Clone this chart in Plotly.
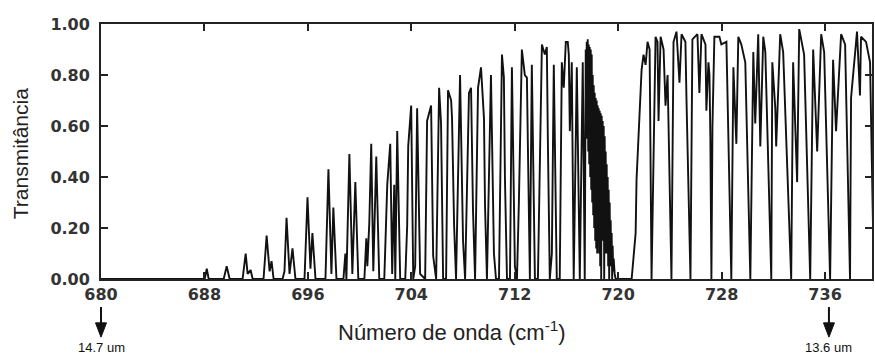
import plotly.graph_objects as go

# Main spectrum (wavenumber in cm^-1, transmittance 0..1)
wavenumber = [
    680.00, 688.02, 688.18, 688.33, 689.49, 689.72, 689.95, 690.95, 691.19, 691.34,
    691.57, 691.73, 692.57, 692.81, 693.04, 693.19, 693.35, 694.04, 694.19, 694.35,
    694.58, 694.81, 695.04, 695.74, 695.97, 696.20, 696.35, 696.59, 697.36, 697.59,
    697.82, 697.97, 698.21, 698.75, 698.90, 698.98, 699.21, 699.44, 699.67, 699.90,
    700.37, 700.52, 700.60, 700.75, 700.90, 701.06, 701.29, 701.52, 701.91, 702.06,
    702.14, 702.37, 702.52, 702.68, 702.76, 702.91, 703.14, 703.53, 703.68, 703.76,
    703.99, 704.15, 704.30, 704.45, 704.68, 705.07, 705.22, 705.53, 705.69, 705.92,
    706.15, 706.30, 706.46, 706.69, 706.84, 707.08, 707.15, 707.31, 707.46, 707.77,
    708.00, 708.16, 708.46, 708.62, 708.77, 708.93, 709.16, 709.39, 709.62, 709.70,
    709.85, 710.16, 710.39, 710.55, 710.78, 711.01, 711.16, 711.24, 711.40, 711.63,
    711.78, 712.01, 712.17, 712.32, 712.55, 712.78, 712.94, 713.02, 713.17, 713.32,
    713.56, 713.79, 713.94, 714.10, 714.33, 714.48, 714.56, 714.71, 714.87, 715.02,
    715.25, 715.48, 715.64, 715.79, 715.95, 716.10, 716.18, 716.26, 716.41, 716.56,
    716.80, 717.03, 717.26,
]
transmittance = [
    0.00, 0.00, 0.04, 0.00, 0.00, 0.05, 0.00, 0.00, 0.10, 0.02,
    0.035, 0.00, 0.00, 0.17, 0.03, 0.07, 0.00, 0.00, 0.03, 0.24,
    0.02, 0.12, 0.00, 0.00, 0.32, 0.04, 0.18, 0.00, 0.00, 0.43,
    0.02, 0.28, 0.00, 0.00, 0.10, 0.00, 0.49, 0.02, 0.38, 0.00,
    0.00, 0.16, 0.05, 0.22, 0.53, 0.03, 0.48, 0.00, 0.00, 0.21,
    0.37, 0.53, 0.02, 0.37, 0.00, 0.58, 0.00, 0.00, 0.21, 0.52,
    0.68, 0.00, 0.05, 0.67, 0.02, 0.00, 0.62, 0.68, 0.09, 0.00,
    0.75, 0.61, 0.00, 0.00, 0.74, 0.70, 0.63, 0.21, 0.00, 0.80,
    0.15, 0.00, 0.73, 0.75, 0.27, 0.00, 0.75, 0.83, 0.63, 0.29,
    0.00, 0.80, 0.10, 0.00, 0.00, 0.88, 0.79, 0.40, 0.00, 0.00,
    0.83, 0.05, 0.00, 0.30, 0.90, 0.80, 0.79, 0.51, 0.00, 0.84,
    0.00, 0.00, 0.50, 0.92, 0.88, 0.91, 0.55, 0.00, 0.10, 0.84,
    0.00, 0.00, 0.85, 0.75, 0.93, 0.93, 0.88, 0.58, 0.85, 0.00,
    0.83, 0.00, 0.85,
]

# Dense line cluster just below 720 cm^-1
dense_wavenumber = [
    717.413, 717.490, 717.529, 717.567, 717.606, 717.645, 717.683, 717.722, 717.760, 717.799,
    717.837, 717.876, 717.915, 717.953, 717.992, 718.030, 718.069, 718.107, 718.146, 718.184,
    718.223, 718.262, 718.300, 718.339, 718.377, 718.416, 718.454, 718.493, 718.532, 718.570,
    718.609, 718.647, 718.686, 718.724, 718.763, 718.801, 718.840, 718.879, 718.917, 718.956,
    718.994, 719.033, 719.071, 719.110, 719.149, 719.187, 719.226, 719.264, 719.303, 719.341,
    719.380, 719.418, 719.457, 719.496, 719.534, 719.573, 719.611, 719.650, 719.727, 719.804,
]
dense_transmittance = [
    0.00, 0.90, 0.55, 0.93, 0.60, 0.94, 0.50, 0.92, 0.45, 0.91,
    0.40, 0.90, 0.35, 0.88, 0.30, 0.80, 0.25, 0.76, 0.20, 0.73,
    0.15, 0.71, 0.12, 0.70, 0.10, 0.68, 0.15, 0.67, 0.10, 0.66,
    0.05, 0.65, 0.00, 0.64, 0.45, 0.62, 0.15, 0.60, 0.00, 0.56,
    0.20, 0.50, 0.10, 0.45, 0.10, 0.40, 0.05, 0.35, 0.00, 0.30,
    0.08, 0.23, 0.05, 0.18, 0.00, 0.13, 0.03, 0.08, 0.02, 0.00,
]

# Region above 720 cm^-1
upper_wavenumber = [
    721.04, 721.35, 721.42, 721.73, 721.81, 721.96, 722.12, 722.27, 722.43, 722.58,
    722.74, 722.89, 723.04, 723.12, 723.28, 723.51, 723.66, 723.82, 724.12, 724.28,
    724.51, 724.74, 724.90, 725.20, 725.28, 725.59, 725.74, 726.13, 726.28, 726.44,
    726.75, 726.82, 726.98, 727.06, 727.13, 727.21, 727.29, 727.44, 727.83, 727.98,
    728.37, 728.75, 728.91, 729.06, 729.14, 729.29, 729.52, 729.83, 730.22, 730.45,
    730.60, 730.83, 730.99, 731.22, 731.38, 731.84, 731.92, 732.15, 732.22, 732.53,
    732.76, 733.38, 733.53, 733.84, 734.00, 734.38, 734.85, 735.08, 735.39, 735.70,
    735.93, 736.39, 736.62, 736.85, 737.16, 737.24, 737.55, 737.93, 738.01, 738.24,
    738.47, 738.70, 738.78, 739.17, 739.48, 739.78,
]
upper_transmittance = [
    0.00, 0.18, 0.39, 0.69, 0.82, 0.88, 0.84, 0.93, 0.90, 0.00,
    0.50, 0.95, 0.93, 0.62, 0.95, 0.90, 0.68, 0.80, 0.00, 0.93,
    0.97, 0.77, 0.96, 0.93, 0.71, 0.00, 0.94, 0.96, 0.73, 0.96,
    0.92, 0.66, 0.85, 0.80, 0.55, 0.00, 0.60, 0.95, 0.95, 0.92,
    0.93, 0.00, 0.83, 0.58, 0.53, 0.95, 0.92, 0.85, 0.00, 0.89,
    0.61, 0.96, 0.52, 0.95, 0.89, 0.00, 0.85, 0.67, 0.52, 0.96,
    0.89, 0.00, 0.85, 0.38, 0.98, 0.88, 0.00, 0.90, 0.50, 0.96,
    0.89, 0.00, 0.86, 0.58, 0.93, 0.96, 0.92, 0.00, 0.71, 0.83,
    0.97, 0.72, 0.95, 0.93, 0.85, 0.00,
]

x_ticks = [680, 688, 696, 704, 712, 720, 728, 736]
x_tick_labels = ["680", "688", "696", "704", "712", "720", "728", "736"]
y_ticks = [0.0, 0.2, 0.4, 0.6, 0.8, 1.0]
y_tick_labels = ["0.00", "0.20", "0.40", "0.60", "0.80", "1.00"]

marker_wavenumbers = [680.0, 736.3]
marker_labels = ["14.7 um", "13.6 um"]

X_MIN, X_MAX = 680.0, 739.63

all_x = wavenumber + dense_wavenumber + upper_wavenumber
all_y = transmittance + dense_transmittance + upper_transmittance

fig = go.Figure()
fig.add_trace(go.Scatter(
    x=all_x, y=all_y, mode="lines",
    line=dict(color="#111111", width=1.9),
    hoverinfo="skip", showlegend=False,
))

tick_font = dict(family="DejaVu Sans", size=16, color="#333333", weight="bold")

fig.update_layout(
    width=875, height=356,
    margin=dict(l=101, r=1, t=24, b=77),
    paper_bgcolor="white", plot_bgcolor="white",
    xaxis=dict(
        range=[X_MIN, X_MAX], tickvals=x_ticks, ticktext=x_tick_labels,
        ticks="inside", ticklen=7, tickwidth=1.5, tickcolor="#222",
        showline=True, linecolor="#222", linewidth=1.8, mirror="ticks",
        showgrid=False, zeroline=False, tickfont=tick_font,
    ),
    yaxis=dict(
        range=[0, 1.0], tickvals=y_ticks, ticktext=y_tick_labels,
        ticks="inside", ticklen=7, tickwidth=1.5, tickcolor="#222",
        showline=True, linecolor="#222", linewidth=1.8, mirror="ticks",
        showgrid=False, zeroline=False, tickfont=tick_font,
        ticklabelstandoff=6,
    ),
)

fig.add_annotation(
    text="Transmitância", textangle=-90,
    xref="paper", yref="paper", x=(20 - 101) / 773, y=0.49,
    xanchor="center", yanchor="middle", showarrow=False,
    font=dict(family="Liberation Sans, Arial, sans-serif", size=21, color="#222"),
)
fig.add_annotation(
    text="Número de onda (cm<sup>-1</sup>)",
    xref="paper", yref="paper", x=0.455, y=-0.205,
    xanchor="center", yanchor="middle", showarrow=False,
    font=dict(family="Liberation Sans, Arial, sans-serif", size=22, color="#222"),
)

half_w = 5.5 / 773
for xv, label in zip(marker_wavenumbers, marker_labels):
    xp = (xv - X_MIN) / (X_MAX - X_MIN)
    fig.add_shape(type="line", xref="paper", yref="paper",
                  x0=xp, x1=xp, y0=-0.11, y1=-0.18,
                  line=dict(color="#111", width=2))
    fig.add_shape(type="path", xref="paper", yref="paper",
                  path=f"M {xp - half_w} -0.172 L {xp + half_w} -0.172 L {xp} -0.228 Z",
                  fillcolor="#111", line=dict(color="#111", width=1))
    fig.add_annotation(
        x=xp, y=-0.268, xref="paper", yref="paper", text=label,
        showarrow=False, xanchor="center", yanchor="middle",
        font=dict(family="Liberation Sans, Arial, sans-serif", size=13, color="#111"),
    )

fig.write_html("out.html")
